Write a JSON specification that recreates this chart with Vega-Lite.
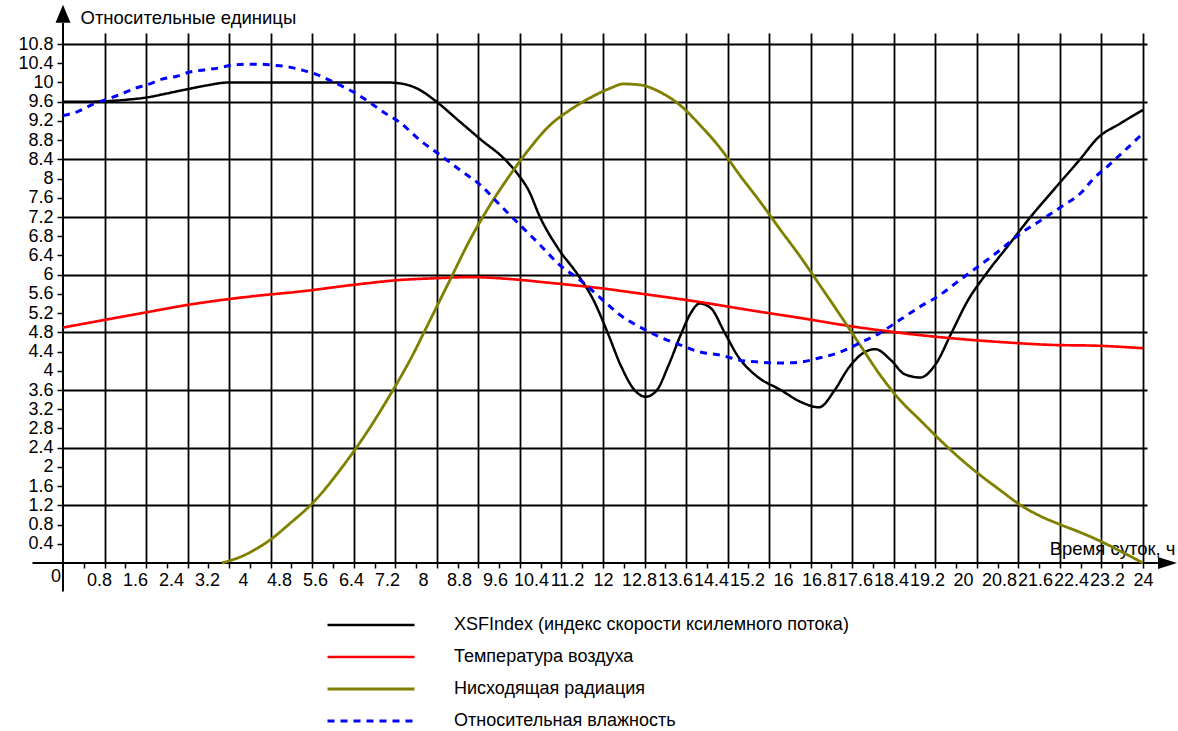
{
  "$schema": "https://vega.github.io/schema/vega-lite/v6.json",
  "width": 1084,
  "height": 530,
  "autosize": {"type": "none"},
  "padding": {"left": 63, "top": 33, "right": 31, "bottom": 168},
  "background": "white",
  "config": {"view": {"stroke": null}, "font": "Liberation Sans", "axis": {"labelOverlap": false, "labelFlush": false, "tickCount": 500}},
  "datasets": {
    "curves": [
      {"s":"a","t":0,"v":9.6},{"s":"a","t":0.5,"v":9.6},{"s":"a","t":0.93,"v":9.61},{"s":"a","t":1.4,"v":9.64},{"s":"a","t":1.87,"v":9.69},{"s":"a","t":2.3,"v":9.77},{"s":"a","t":2.76,"v":9.86},{"s":"a","t":3.2,"v":9.94},{"s":"a","t":3.67,"v":10},{"s":"a","t":4.5,"v":10},{"s":"a","t":5.5,"v":10},{"s":"a","t":6.5,"v":10},{"s":"a","t":7.2,"v":10},{"s":"a","t":7.5,"v":9.98},{"s":"a","t":7.9,"v":9.86},{"s":"a","t":8.3,"v":9.6},{"s":"a","t":8.8,"v":9.2},{"s":"a","t":9.3,"v":8.8},{"s":"a","t":9.82,"v":8.4},{"s":"a","t":10.1,"v":8.1},{"s":"a","t":10.35,"v":7.75},{"s":"a","t":10.6,"v":7.2},{"s":"a","t":11.0,"v":6.55},{"s":"a","t":11.44,"v":6.0},{"s":"a","t":11.8,"v":5.45},{"s":"a","t":12.1,"v":4.8},{"s":"a","t":12.4,"v":4.1},{"s":"a","t":12.7,"v":3.6},{"s":"a","t":12.95,"v":3.46},{"s":"a","t":13.2,"v":3.6},{"s":"a","t":13.45,"v":4.1},{"s":"a","t":13.75,"v":4.8},{"s":"a","t":13.95,"v":5.2},{"s":"a","t":14.15,"v":5.4},{"s":"a","t":14.4,"v":5.3},{"s":"a","t":14.7,"v":4.8},{"s":"a","t":15.0,"v":4.3},{"s":"a","t":15.4,"v":3.9},{"s":"a","t":15.95,"v":3.6},{"s":"a","t":16.4,"v":3.35},{"s":"a","t":16.8,"v":3.24},{"s":"a","t":17.15,"v":3.6},{"s":"a","t":17.45,"v":4.05},{"s":"a","t":17.75,"v":4.35},{"s":"a","t":18.05,"v":4.45},{"s":"a","t":18.4,"v":4.22},{"s":"a","t":18.7,"v":3.93},{"s":"a","t":19.05,"v":3.86},{"s":"a","t":19.4,"v":4.15},{"s":"a","t":19.75,"v":4.8},{"s":"a","t":20.1,"v":5.45},{"s":"a","t":20.5,"v":6.0},{"s":"a","t":21.0,"v":6.6},{"s":"a","t":21.5,"v":7.2},{"s":"a","t":22.0,"v":7.75},{"s":"a","t":22.6,"v":8.4},{"s":"a","t":23.0,"v":8.85},{"s":"a","t":23.5,"v":9.15},{"s":"a","t":24,"v":9.43},
      {"s":"b","t":0,"v":4.9},{"s":"b","t":0.93,"v":5.06},{"s":"b","t":1.87,"v":5.22},{"s":"b","t":2.76,"v":5.37},{"s":"b","t":3.5,"v":5.47},{"s":"b","t":4.3,"v":5.56},{"s":"b","t":5.27,"v":5.65},{"s":"b","t":6.38,"v":5.78},{"s":"b","t":7.49,"v":5.89},{"s":"b","t":8.38,"v":5.93},{"s":"b","t":9.04,"v":5.95},{"s":"b","t":9.93,"v":5.91},{"s":"b","t":10.82,"v":5.83},{"s":"b","t":11.93,"v":5.72},{"s":"b","t":13.04,"v":5.58},{"s":"b","t":14.16,"v":5.43},{"s":"b","t":15.27,"v":5.26},{"s":"b","t":16.38,"v":5.1},{"s":"b","t":17.49,"v":4.93},{"s":"b","t":18.6,"v":4.79},{"s":"b","t":19.71,"v":4.68},{"s":"b","t":20.82,"v":4.6},{"s":"b","t":21.93,"v":4.54},{"s":"b","t":23.04,"v":4.52},{"s":"b","t":24,"v":4.47},
      {"s":"c","t":3.53,"v":0},{"s":"c","t":4.0,"v":0.15},{"s":"c","t":4.6,"v":0.48},{"s":"c","t":5.04,"v":0.82},{"s":"c","t":5.6,"v":1.3},{"s":"c","t":6.16,"v":1.94},{"s":"c","t":6.71,"v":2.66},{"s":"c","t":7.27,"v":3.5},{"s":"c","t":7.71,"v":4.22},{"s":"c","t":8.16,"v":5.06},{"s":"c","t":8.6,"v":5.89},{"s":"c","t":9.04,"v":6.72},{"s":"c","t":9.49,"v":7.45},{"s":"c","t":9.93,"v":8.07},{"s":"c","t":10.38,"v":8.64},{"s":"c","t":10.82,"v":9.11},{"s":"c","t":11.27,"v":9.43},{"s":"c","t":11.71,"v":9.68},{"s":"c","t":12.16,"v":9.88},{"s":"c","t":12.45,"v":9.97},{"s":"c","t":12.82,"v":9.95},{"s":"c","t":13.27,"v":9.8},{"s":"c","t":13.71,"v":9.53},{"s":"c","t":14.16,"v":9.11},{"s":"c","t":14.6,"v":8.64},{"s":"c","t":15.04,"v":8.07},{"s":"c","t":15.49,"v":7.52},{"s":"c","t":15.93,"v":6.95},{"s":"c","t":16.38,"v":6.38},{"s":"c","t":16.82,"v":5.78},{"s":"c","t":17.27,"v":5.16},{"s":"c","t":17.71,"v":4.54},{"s":"c","t":18.16,"v":3.91},{"s":"c","t":18.6,"v":3.39},{"s":"c","t":19.04,"v":2.98},{"s":"c","t":19.49,"v":2.56},{"s":"c","t":19.93,"v":2.18},{"s":"c","t":20.38,"v":1.83},{"s":"c","t":20.82,"v":1.52},{"s":"c","t":21.27,"v":1.21},{"s":"c","t":21.71,"v":0.98},{"s":"c","t":22.16,"v":0.8},{"s":"c","t":22.6,"v":0.64},{"s":"c","t":23.04,"v":0.46},{"s":"c","t":23.49,"v":0.25},{"s":"c","t":24,"v":0},
      {"s":"d","t":0,"v":9.31},{"s":"d","t":0.34,"v":9.4},{"s":"d","t":0.67,"v":9.55},{"s":"d","t":0.97,"v":9.65},{"s":"d","t":1.27,"v":9.75},{"s":"d","t":1.6,"v":9.88},{"s":"d","t":1.89,"v":9.96},{"s":"d","t":2.2,"v":10.07},{"s":"d","t":2.53,"v":10.13},{"s":"d","t":2.82,"v":10.22},{"s":"d","t":3.13,"v":10.26},{"s":"d","t":3.45,"v":10.3},{"s":"d","t":3.75,"v":10.36},{"s":"d","t":4.06,"v":10.38},{"s":"d","t":4.38,"v":10.38},{"s":"d","t":4.67,"v":10.36},{"s":"d","t":4.98,"v":10.33},{"s":"d","t":5.31,"v":10.26},{"s":"d","t":5.6,"v":10.18},{"s":"d","t":5.92,"v":10.05},{"s":"d","t":6.25,"v":9.9},{"s":"d","t":6.55,"v":9.75},{"s":"d","t":6.84,"v":9.57},{"s":"d","t":7.16,"v":9.36},{"s":"d","t":7.47,"v":9.18},{"s":"d","t":7.93,"v":8.8},{"s":"d","t":8.38,"v":8.49},{"s":"d","t":8.82,"v":8.18},{"s":"d","t":9.27,"v":7.87},{"s":"d","t":9.71,"v":7.45},{"s":"d","t":10.16,"v":7.03},{"s":"d","t":10.6,"v":6.62},{"s":"d","t":11.04,"v":6.2},{"s":"d","t":11.49,"v":5.89},{"s":"d","t":11.93,"v":5.53},{"s":"d","t":12.38,"v":5.16},{"s":"d","t":12.82,"v":4.91},{"s":"d","t":13.27,"v":4.7},{"s":"d","t":13.71,"v":4.54},{"s":"d","t":14.16,"v":4.39},{"s":"d","t":14.6,"v":4.33},{"s":"d","t":15.04,"v":4.22},{"s":"d","t":15.49,"v":4.18},{"s":"d","t":15.93,"v":4.16},{"s":"d","t":16.38,"v":4.18},{"s":"d","t":16.82,"v":4.27},{"s":"d","t":17.27,"v":4.39},{"s":"d","t":17.71,"v":4.58},{"s":"d","t":18.16,"v":4.79},{"s":"d","t":18.6,"v":5.06},{"s":"d","t":19.04,"v":5.33},{"s":"d","t":19.49,"v":5.58},{"s":"d","t":19.93,"v":5.89},{"s":"d","t":20.38,"v":6.2},{"s":"d","t":20.82,"v":6.51},{"s":"d","t":21.27,"v":6.85},{"s":"d","t":21.71,"v":7.12},{"s":"d","t":22.16,"v":7.4},{"s":"d","t":22.64,"v":7.72},{"s":"d","t":22.89,"v":7.99},{"s":"d","t":23.22,"v":8.26},{"s":"d","t":23.53,"v":8.53},{"s":"d","t":23.84,"v":8.8},{"s":"d","t":24,"v":8.95}
    ]
  },
  "layer": [
    {
      "data": {"values": [{}]},
      "mark": {"type": "rule", "color": "black", "strokeWidth": 2},
      "encoding": {
        "x": {"datum": -0.678, "type": "quantitative",
          "scale": {"domain": [0, 24.089], "nice": false, "zero": false},
          "axis": {
            "orient": "bottom", "tickCount": 500,
            "values": [0.4615,0.9231,1.3846,1.8462,2.3077,2.7692,3.2308,3.6923,4.1538,4.6154,5.0769,5.5385,6,6.4615,6.9231,7.3846,7.8462,8.3077,8.7692,9.2308,9.6923,10.1538,10.6154,11.0769,11.5385,12,12.4615,12.9231,13.3846,13.8462,14.3077,14.7692,15.2308,15.6923,16.1538,16.6154,17.0769,17.5385,18,18.4615,18.9231,19.3846,19.8462,20.3077,20.7692,21.2308,21.6923,22.1538,22.6154,23.0769,23.5385,24],
            "labels": false, "domain": false, "ticks": true, "tickSize": 5, "tickColor": "black", "tickWidth": 1.5,
            "grid": true, "gridColor": "black", "gridWidth": 1.8,
            "gridOpacity": {"condition": {"test": "round(datum.value*52/24) % 2 == 0", "value": 1}, "value": 0},
            "title": null
          }
        },
        "x2": {"datum": 24.33},
        "y": {"datum": 0, "type": "quantitative",
          "scale": {"domain": [0, 11.03], "nice": false, "zero": false},
          "axis": {
            "orient": "left", "tickCount": 500,
            "values": [0.4,0.8,1.2,1.6,2,2.4,2.8,3.2,3.6,4,4.4,4.8,5.2,5.6,6,6.4,6.8,7.2,7.6,8,8.4,8.8,9.2,9.6,10,10.4,10.8],
            "format": ".1~f",
            "domain": false, "ticks": true, "tickSize": 6, "tickWidth": 1.5, "tickColor": "black",
            "labelPadding": 4, "labelFontSize": 18, "labelFont": "Liberation Sans", "labelColor": "black",
            "labelOverlap": false, "labelFlush": false, "labelBound": false,
            "grid": true, "gridColor": "black", "gridWidth": 1.8,
            "gridOpacity": {"condition": {"test": "abs(datum.value/1.2 - round(datum.value/1.2)) < 0.01", "value": 1}, "value": 0},
            "title": "Относительные единицы",
            "titleAngle": 0, "titleX": 17, "titleY": -16, "titleAlign": "left", "titleBaseline": "middle",
            "titleFont": "Liberation Sans", "titleFontSize": 18.5, "titleFontWeight": "normal", "titleColor": "black"
          }
        }
      }
    },
    {
      "data": {"values": [{}]},
      "mark": {"type": "rule", "color": "black", "strokeWidth": 2},
      "encoding": {
        "x": {"datum": 0, "type": "quantitative", "axis": null},
        "y": {"datum": -0.593, "type": "quantitative"},
        "y2": {"datum": 11.24}
      }
    },
    {
      "data": {"name": "curves"},
      "mark": {"type": "line", "interpolate": "monotone"},
      "encoding": {
        "x": {"field": "t", "type": "quantitative",
          "axis": {
            "orient": "bottom", "tickCount": 500,
            "values": [0.8,1.6,2.4,3.2,4,4.8,5.6,6.4,7.2,8,8.8,9.6,10.4,11.2,12,12.8,13.6,14.4,15.2,16,16.8,17.6,18.4,19.2,20,20.8,21.6,22.4,23.2,24],
            "format": ".1~f",
            "ticks": false, "domain": false, "grid": false,
            "labelPadding": 8, "labelFontSize": 18, "labelFont": "Liberation Sans", "labelColor": "black",
            "labelOverlap": false, "labelFlush": false, "labelBound": false,
            "title": "Время суток, ч", "titleX": 1112, "titleY": -15, "titleAlign": "right", "titleBaseline": "middle",
            "titleFont": "Liberation Sans", "titleFontSize": 18.5, "titleFontWeight": "normal", "titleColor": "black"
          }
        },
        "y": {"field": "v", "type": "quantitative"},
        "color": {"field": "s", "type": "nominal",
          "scale": {"domain": ["a","b","c","d"], "range": ["#000000","#ff0000","#808000","#0000ff"]},
          "legend": {
            "orient": "none", "legendX": 263, "legendY": 581, "title": null, "direction": "vertical",
            "symbolType": "stroke", "symbolSize": 7569, "symbolStrokeWidth": 3, "clipHeight": 22, "rowPadding": 10,
            "labelFontSize": 18, "labelFont": "Liberation Sans", "labelColor": "black", "labelOffset": 38, "labelLimit": 700,
            "labelExpr": "datum.value == 'a' ? 'XSFIndex (индекс скорости ксилемного потока)' : datum.value == 'b' ? 'Температура воздуха' : datum.value == 'c' ? 'Нисходящая радиация' : 'Относительная влажность'"
          }
        },
        "strokeDash": {"field": "s", "type": "nominal",
          "scale": {"domain": ["a","b","c","d"], "range": [[1,0],[1,0],[1,0],[7,6]]},
          "legend": {
            "orient": "none", "legendX": 263, "legendY": 581, "title": null, "direction": "vertical",
            "symbolType": "stroke", "symbolSize": 7569, "symbolStrokeWidth": 3, "clipHeight": 22, "rowPadding": 10,
            "labelFontSize": 18, "labelFont": "Liberation Sans", "labelColor": "black", "labelOffset": 38, "labelLimit": 700,
            "labelExpr": "datum.value == 'a' ? 'XSFIndex (индекс скорости ксилемного потока)' : datum.value == 'b' ? 'Температура воздуха' : datum.value == 'c' ? 'Нисходящая радиация' : 'Относительная влажность'"
          }
        },
        "strokeWidth": {"field": "s", "type": "nominal",
          "scale": {"domain": ["a","b","c","d"], "range": [2.5,3,3,4.5]},
          "legend": null
        }
      }
    },
    {
      "data": {"values": [{}]},
      "mark": {"type": "point", "shape": "M0,-1L-0.83,1L0.83,1Z", "filled": true, "color": "black", "opacity": 1, "size": 324},
      "encoding": {
        "x": {"datum": 0, "type": "quantitative", "axis": null},
        "y": {"datum": 11.43, "type": "quantitative"}
      }
    },
    {
      "data": {"values": [{}]},
      "mark": {"type": "point", "shape": "M1,0L-1,-0.63L-1,0.63Z", "filled": true, "color": "black", "opacity": 1, "size": 361},
      "encoding": {
        "x": {"datum": 24.544, "type": "quantitative", "axis": null},
        "y": {"datum": 0, "type": "quantitative"}
      }
    },
    {
      "data": {"values": [{}]},
      "mark": {"type": "text", "text": "0", "align": "right", "baseline": "top", "dx": -2, "dy": 5, "font": "Liberation Sans", "fontSize": 18, "color": "black"},
      "encoding": {
        "x": {"datum": 0, "type": "quantitative", "axis": null},
        "y": {"datum": 0, "type": "quantitative"}
      }
    }
  ],
  "resolve": {"axis": {"x": "independent"}}
}
